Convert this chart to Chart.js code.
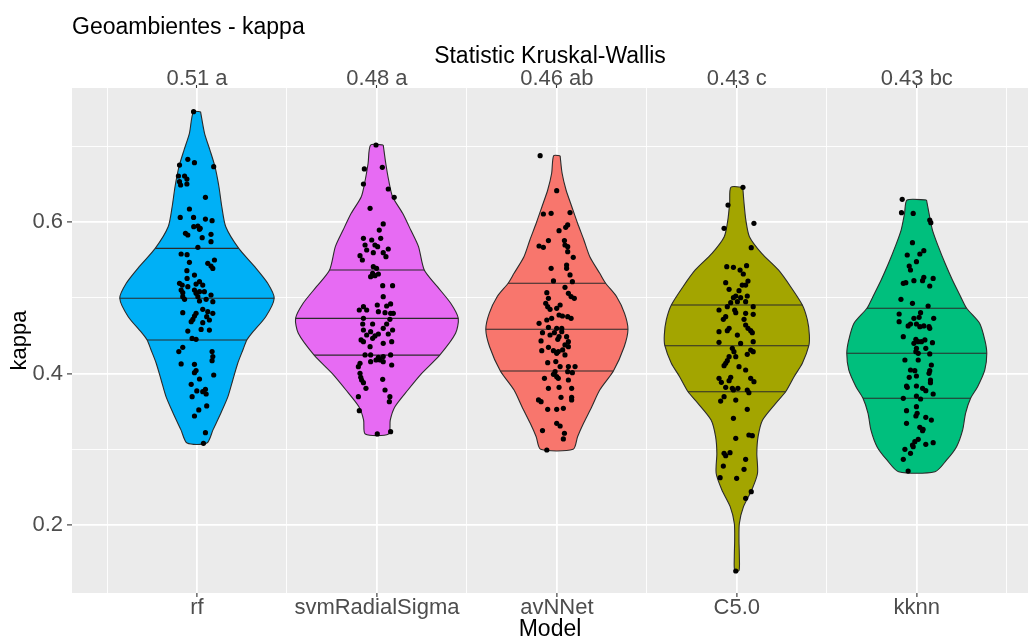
<!DOCTYPE html>
<html>
<head>
<meta charset="utf-8">
<title>Geoambientes - kappa</title>
<script src="https://cdn.jsdelivr.net/npm/chart.js@4.4.1/dist/chart.umd.min.js"></script>
<style>
  html, body { margin: 0; padding: 0; background: #ffffff; }
  canvas { display: block; }
</style>
</head>
<body>
<canvas id="chart" width="1032" height="637"></canvas>
<script>
// ---------- categories and top-axis labels ----------
const models = ['rf', 'svmRadialSigma', 'avNNet', 'C5.0', 'kknn'];
const kwLabels = ['0.51 a', '0.48 a', '0.46 ab', '0.43 c', '0.43 bc'];

// ---------- quartiles drawn inside each violin ----------
const q75 = [0.5656, 0.5370, 0.5194, 0.4907, 0.4864];
const q50 = [0.4996, 0.4731, 0.4586, 0.4369, 0.4269];
const q25 = [0.4445, 0.4245, 0.4035, 0.3761, 0.3674];

// ---------- violin density profiles: kappa level and half-width (x units) ----------
const rfLevels = [0.746, 0.7176, 0.6955, 0.6735, 0.647, 0.6206, 0.5942, 0.5656, 0.5413, 0.5194, 0.4996, 0.4752, 0.4533, 0.4445, 0.4313, 0.4141, 0.3916, 0.3696, 0.348, 0.3257, 0.3083];
const rfWidths = [0.020, 0.042, 0.072, 0.100, 0.122, 0.138, 0.160, 0.232, 0.321, 0.393, 0.429, 0.382, 0.304, 0.277, 0.255, 0.227, 0.199, 0.172, 0.133, 0.089, 0.055];

const svmLevels = [0.7022, 0.678, 0.6559, 0.6338, 0.6119, 0.5898, 0.5678, 0.537, 0.5149, 0.493, 0.4731, 0.4533, 0.4245, 0.4004, 0.3784, 0.3563, 0.3387, 0.3202];
const svmWidths = [0.035, 0.049, 0.065, 0.087, 0.143, 0.188, 0.231, 0.263, 0.336, 0.410, 0.452, 0.437, 0.349, 0.249, 0.172, 0.100, 0.074, 0.065];

const avnnetLevels = [0.688, 0.6648, 0.6427, 0.6206, 0.5987, 0.5766, 0.5545, 0.5326, 0.5194, 0.5017, 0.4797, 0.4586, 0.4356, 0.4035, 0.3784, 0.3563, 0.3344, 0.3167, 0.3000];
const avnnetWidths = [0.018, 0.029, 0.051, 0.083, 0.115, 0.150, 0.183, 0.238, 0.271, 0.332, 0.376, 0.395, 0.374, 0.314, 0.238, 0.194, 0.148, 0.115, 0.090];

const c50Levels = [0.6463, 0.6251, 0.603, 0.581, 0.559, 0.537, 0.5149, 0.4907, 0.4709, 0.4511, 0.4369, 0.4137, 0.396, 0.3761, 0.3608, 0.3387, 0.3167, 0.2947, 0.2683, 0.2462, 0.2242, 0.2022, 0.1801, 0.1581, 0.1396];
const c50Widths = [0.033, 0.040, 0.050, 0.070, 0.138, 0.231, 0.299, 0.364, 0.392, 0.403, 0.400, 0.364, 0.318, 0.271, 0.216, 0.143, 0.118, 0.111, 0.115, 0.083, 0.037, 0.014, 0.012, 0.014, 0.012];

const kknnLevels = [0.6295, 0.6119, 0.5898, 0.5678, 0.5458, 0.5238, 0.5017, 0.4864, 0.4665, 0.4445, 0.4269, 0.4049, 0.3827, 0.3674, 0.3476, 0.3257, 0.3035, 0.2859, 0.2704];
const kknnWidths = [0.054, 0.068, 0.087, 0.120, 0.157, 0.198, 0.244, 0.277, 0.349, 0.378, 0.389, 0.378, 0.338, 0.299, 0.271, 0.255, 0.221, 0.166, 0.101];

// ---------- resample kappa values and their horizontal jitter ----------
const rfKappa = [0.7462,0.6832,0.6788,0.6757,0.6735,0.6612,0.6612,0.6572,0.6537,0.6506,0.6493,0.6330,0.6176,0.6065,0.6065,0.6043,0.6021,0.5951,0.5942,0.5907,0.5920,0.5854,0.5832,0.5841,0.5797,0.5744,0.5669,0.5581,0.5572,0.5471,0.5502,0.5458,0.5422,0.5391,0.5361,0.5303,0.5259,0.5193,0.5171,0.5149,0.5184,0.5215,0.5171,0.5105,0.5070,0.5105,0.5061,0.5083,0.5083,0.5017,0.5039,0.5017,0.4982,0.4951,0.4982,0.4960,0.4806,0.4797,0.4850,0.4819,0.4797,0.4761,0.4717,0.4687,0.4753,0.4709,0.4673,0.4576,0.4585,0.4563,0.4466,0.4453,0.4348,0.4291,0.4291,0.4225,0.4172,0.4128,0.4123,0.4040,0.4013,0.3982,0.3929,0.3859,0.3793,0.3771,0.3762,0.3731,0.3696,0.3573,0.3520,0.3440,0.3220,0.3079];
const rfJitter = [-0.019,-0.051,-0.014,-0.097,0.093,-0.103,-0.069,-0.056,-0.097,-0.056,-0.091,0.047,-0.042,-0.093,-0.019,0.047,0.084,0.005,-0.018,0.014,0.018,-0.064,-0.051,0.078,0.029,0.078,0.005,-0.088,-0.055,-0.042,0.097,0.060,0.078,0.088,-0.056,-0.014,-0.055,-0.097,-0.082,-0.051,-0.005,0.014,0.032,-0.088,-0.079,-0.014,-0.005,0.014,0.041,-0.079,0.078,0.005,0.051,0.088,-0.069,0.014,-0.079,-0.005,0.032,0.060,0.088,-0.014,-0.023,-0.032,0.054,0.069,0.032,0.069,0.023,-0.051,-0.027,-0.005,-0.079,-0.101,0.084,0.088,0.084,-0.088,-0.014,-0.005,-0.014,0.093,0.014,-0.032,0.047,-0.001,0.032,0.051,-0.027,0.054,0.010,-0.014,0.047,0.036];

const svmKappa = [0.7022,0.6705,0.6727,0.6506,0.6440,0.6330,0.6185,0.5978,0.5898,0.5788,0.5766,0.5788,0.5700,0.5700,0.5634,0.5678,0.5599,0.5647,0.5599,0.5559,0.5546,0.5502,0.5414,0.5392,0.5326,0.5317,0.5282,0.5295,0.5163,0.5163,0.5017,0.4885,0.4907,0.4894,0.4921,0.4841,0.4841,0.4819,0.4806,0.4797,0.4797,0.4731,0.4718,0.4656,0.4656,0.4656,0.4599,0.4577,0.4577,0.4555,0.4511,0.4524,0.4524,0.4445,0.4423,0.4467,0.4498,0.4357,0.4401,0.4423,0.4247,0.4247,0.4216,0.4225,0.4247,0.4136,0.4158,0.4158,0.4180,0.4114,0.4180,0.4092,0.4004,0.3951,0.3916,0.3881,0.3925,0.3806,0.3784,0.3696,0.3696,0.3630,0.3511,0.3203,0.3233];
const svmJitter = [-0.005,-0.070,0.030,-0.075,0.063,0.096,-0.038,0.035,0.013,-0.075,-0.029,0.021,-0.066,-0.011,-0.057,0.004,-0.020,0.063,0.035,-0.094,0.050,-0.081,-0.020,-0.002,-0.024,0.008,-0.035,-0.011,0.032,0.087,0.035,-0.075,0.002,0.054,0.076,-0.098,-0.057,0.008,0.045,0.076,0.091,-0.075,0.072,-0.079,-0.024,0.054,0.035,0.087,-0.075,-0.035,-0.057,0.008,0.063,-0.088,-0.075,-0.024,-0.011,-0.038,0.035,0.082,-0.066,-0.035,0.008,0.035,0.076,-0.094,-0.035,0.035,0.017,0.082,-0.005,-0.103,-0.094,-0.090,-0.085,-0.075,0.032,-0.061,0.045,-0.103,0.072,0.069,-0.098,0.002,0.076];

const avnnetKappa = [0.6881,0.6418,0.6110,0.6119,0.6128,0.5965,0.5934,0.5890,0.5758,0.5758,0.5700,0.5678,0.5687,0.5670,0.5612,0.5537,0.5436,0.5392,0.5392,0.5304,0.5225,0.5216,0.5141,0.5062,0.5070,0.5018,0.4996,0.4996,0.4930,0.4885,0.4907,0.4863,0.4850,0.4775,0.4762,0.4753,0.4731,0.4709,0.4731,0.4665,0.4612,0.4599,0.4599,0.4542,0.4542,0.4555,0.4511,0.4489,0.4489,0.4432,0.4454,0.4423,0.4379,0.4357,0.4348,0.4313,0.4291,0.4304,0.4304,0.4269,0.4247,0.4145,0.4159,0.4093,0.4093,0.4093,0.4026,0.3991,0.3960,0.3938,0.4026,0.4013,0.3938,0.3916,0.3806,0.3819,0.3806,0.3652,0.3630,0.3687,0.3687,0.3652,0.3529,0.3529,0.3542,0.3344,0.3308,0.3247,0.3212,0.3137,0.2991];
const avnnetJitter = [-0.093,-0.001,-0.075,-0.032,0.073,0.060,0.049,0.012,-0.047,0.042,0.045,0.060,-0.099,-0.075,0.060,0.091,0.054,0.054,-0.032,0.073,-0.019,0.086,0.045,0.064,-0.056,0.079,0.097,-0.047,-0.062,-0.051,0.018,-0.001,-0.038,0.012,0.031,0.060,0.079,-0.056,-0.029,-0.099,-0.047,-0.001,0.027,-0.080,-0.014,0.027,-0.038,0.012,0.054,-0.088,0.005,0.064,0.045,0.064,-0.047,0.032,0.008,-0.084,-0.019,-0.001,0.045,-0.051,-0.006,0.018,0.064,0.101,-0.010,-0.019,-0.001,0.008,0.060,0.086,-0.069,0.064,-0.047,0.012,0.082,-0.102,-0.088,0.023,0.082,0.082,-0.051,-0.001,0.036,-0.001,0.018,-0.080,0.042,0.036,-0.056];

const c50Kappa = [0.6462,0.6228,0.5986,0.5920,0.5665,0.5414,0.5405,0.5427,0.5369,0.5317,0.5202,0.5224,0.5171,0.5171,0.5114,0.5096,0.5026,0.5026,0.5004,0.5004,0.4938,0.4951,0.4951,0.4885,0.4885,0.4841,0.4841,0.4797,0.4806,0.4784,0.4753,0.4718,0.4718,0.4643,0.4599,0.4568,0.4599,0.4568,0.4541,0.4510,0.4555,0.4422,0.4414,0.4400,0.4334,0.4290,0.4312,0.4290,0.4255,0.4224,0.4224,0.4171,0.4136,0.4105,0.4092,0.4048,0.3938,0.3951,0.3938,0.3894,0.3885,0.3907,0.3819,0.3784,0.3806,0.3806,0.3784,0.3696,0.3638,0.3651,0.3748,0.3528,0.3409,0.3145,0.3189,0.3180,0.2947,0.2956,0.2916,0.2867,0.2779,0.2735,0.2625,0.2616,0.2440,0.2352,0.1392];
const c50Jitter = [0.034,-0.049,0.095,-0.071,0.080,-0.056,-0.019,0.054,0.018,0.036,-0.062,0.062,0.049,0.030,-0.043,0.012,-0.006,0.058,0.021,-0.019,-0.034,0.003,0.049,-0.053,0.091,-0.099,-0.012,0.049,-0.006,0.091,-0.062,-0.075,0.040,0.049,-0.043,-0.053,0.062,0.077,0.086,0.003,-0.099,0.091,-0.099,0.021,-0.025,-0.016,0.077,0.091,0.058,-0.043,-0.006,-0.053,-0.062,-0.071,0.012,0.049,-0.099,-0.034,0.077,0.095,-0.086,-0.043,-0.062,-0.019,-0.025,0.006,0.058,-0.071,-0.090,-0.006,0.067,0.058,-0.019,-0.006,0.067,0.086,-0.071,-0.038,-0.062,0.049,-0.075,0.040,-0.093,-0.001,0.080,0.049,-0.006];

const kknnKappa = [0.6304,0.6127,0.6118,0.6030,0.5995,0.5731,0.5625,0.5568,0.5581,0.5480,0.5422,0.5370,0.5273,0.5259,0.5193,0.5202,0.5229,0.5229,0.5158,0.4982,0.4929,0.4894,0.4788,0.4806,0.4687,0.4731,0.4744,0.4731,0.4630,0.4656,0.4656,0.4621,0.4630,0.4621,0.4599,0.4489,0.4453,0.4445,0.4401,0.4423,0.4423,0.4409,0.4334,0.4334,0.4290,0.4268,0.4260,0.4180,0.4180,0.4114,0.4048,0.4039,0.4039,0.3969,0.4004,0.3916,0.3951,0.3837,0.3819,0.3837,0.3806,0.3731,0.3775,0.3881,0.3674,0.3704,0.3665,0.3564,0.3511,0.3475,0.3440,0.3423,0.3387,0.3343,0.3290,0.3264,0.3246,0.3132,0.3101,0.3057,0.3035,0.3066,0.3088,0.3000,0.2947,0.2868,0.2713];
const kknnJitter = [-0.081,-0.085,-0.020,0.072,0.078,-0.024,0.039,-0.053,0.017,-0.002,-0.042,-0.035,0.039,0.091,-0.075,-0.061,-0.016,0.032,0.072,-0.088,-0.024,0.063,-0.098,0.021,-0.098,-0.016,0.013,0.094,-0.048,-0.035,-0.002,0.017,0.039,0.068,0.072,-0.075,-0.005,0.045,-0.016,0.008,0.026,0.087,-0.002,0.050,-0.005,0.008,0.072,-0.066,0.008,0.081,-0.035,-0.011,0.072,-0.002,0.068,0.076,-0.042,-0.057,-0.053,-0.002,0.032,0.091,0.050,0.076,-0.075,-0.002,0.021,-0.002,-0.057,0.002,-0.005,0.050,0.081,-0.057,0.017,0.035,0.032,0.008,-0.011,-0.024,-0.020,0.050,0.091,-0.066,-0.035,-0.075,-0.048];

// ---------- axis grids ----------
const xGridValues = [0.5, 1, 1.5, 2, 2.5, 3, 3.5, 4, 4.5, 5, 5.5];
const yGridValues = [0.2, 0.3, 0.4, 0.5, 0.6, 0.7];
const yLabelValues = [0.2, 0.4, 0.6];

// ---------- styling ----------
const fillColors = ['#00B0F6', '#E76BF3', '#F8766D', '#A3A500', '#00BF7D'];
const FONT = '"Liberation Sans", Arial, Helvetica, sans-serif';
const X_MIN = 0.3055, X_MAX = 5.618;
const Y_MIN = 0.1101, Y_MAX = 0.7775;

const levelsByModel = [rfLevels, svmLevels, avnnetLevels, c50Levels, kknnLevels];
const widthsByModel = [rfWidths, svmWidths, avnnetWidths, c50Widths, kknnWidths];
const kappaByModel = [rfKappa, svmKappa, avnnetKappa, c50Kappa, kknnKappa];
const jitterByModel = [rfJitter, svmJitter, avnnetJitter, c50Jitter, kknnJitter];

// closed outline: down the right side, back up the left side
function violinOutline(center, levels, widths) {
  const right = levels.map((v, i) => ({ x: center + widths[i], y: v }));
  const left = levels.map((v, i) => ({ x: center - widths[i], y: v })).reverse();
  return right.concat(left, [right[0]]);
}

// half-width of the profile at the level closest to q
function widthAt(levels, widths, q) {
  let best = 0;
  levels.forEach((v, i) => { if (Math.abs(v - q) < Math.abs(levels[best] - q)) best = i; });
  return widths[best];
}

const datasets = [];
models.forEach((m, i) => {
  const center = i + 1;
  const levels = levelsByModel[i];
  const widths = widthsByModel[i];

  datasets.push({
    label: m + ' violin',
    data: violinOutline(center, levels, widths),
    showLine: true,
    fill: 'shape',
    backgroundColor: fillColors[i],
    borderColor: '#2b2b2b',
    borderWidth: 1.1,
    pointRadius: 0,
    tension: 0.25,
    order: 3
  });

  [q25[i], q50[i], q75[i]].forEach((q) => {
    const w = widthAt(levels, widths, q);
    datasets.push({
      label: m + ' quartile',
      data: [{ x: center - w, y: q }, { x: center + w, y: q }],
      showLine: true,
      fill: false,
      borderColor: '#2b2b2b',
      borderWidth: 1.1,
      pointRadius: 0,
      order: 2
    });
  });

  datasets.push({
    label: m + ' resamples',
    data: kappaByModel[i].map((k, j) => ({ x: center + jitterByModel[i][j], y: k })),
    showLine: false,
    pointRadius: 2.6,
    pointBackgroundColor: '#000000',
    pointBorderWidth: 0,
    order: 0
  });
});

const isMajorX = (v) => Number.isInteger(Math.round(v * 1e6) / 1e6);
const isMajorY = (v) => yLabelValues.some((l) => Math.abs(l - v) < 1e-6);

const panelPlugin = {
  id: 'panel',
  beforeDraw(chart) {
    const { ctx, chartArea: a } = chart;
    ctx.save();
    ctx.fillStyle = '#ffffff';
    ctx.fillRect(0, 0, chart.width, chart.height);
    ctx.fillStyle = '#EBEBEB';
    ctx.fillRect(a.left, a.top, a.right - a.left, a.bottom - a.top);
    ctx.restore();
  },
  afterDraw(chart) {
    const { ctx, chartArea: a } = chart;
    ctx.save();
    ctx.fillStyle = '#000000';
    ctx.font = '23px ' + FONT;
    ctx.textAlign = 'left';
    ctx.textBaseline = 'alphabetic';
    ctx.fillText('Geoambientes - kappa', a.left, 34);
    ctx.restore();
  }
};

new Chart(document.getElementById('chart'), {
  type: 'scatter',
  data: { datasets },
  options: {
    responsive: false,
    devicePixelRatio: 1,
    animation: false,
    events: [],
    layout: { padding: 0 },
    plugins: {
      legend: { display: false },
      tooltip: { enabled: false },
      title: { display: false }
    },
    scales: {
      x: {
        type: 'linear',
        position: 'bottom',
        min: X_MIN,
        max: X_MAX,
        bounds: 'data',
        afterBuildTicks: (s) => { s.ticks = xGridValues.map((v) => ({ value: v })); },
        afterFit: (s) => { s.height = 44; },
        border: { display: false },
        grid: {
          color: '#ffffff',
          lineWidth: (c) => (c.tick && isMajorX(c.tick.value) ? 1.8 : 0.9),
          drawTicks: true,
          tickLength: 4,
          tickWidth: 1.1,
          tickColor: (c) => (c.tick && isMajorX(c.tick.value) ? '#333333' : 'rgba(0,0,0,0)')
        },
        ticks: {
          autoSkip: false,
          maxRotation: 0,
          padding: 0,
          color: '#4D4D4D',
          font: { family: FONT, size: 22, lineHeight: 1 },
          callback: (v) => (isMajorX(v) ? models[Math.round(v) - 1] : '')
        },
        title: {
          display: true,
          text: 'Model',
          color: '#000000',
          font: { family: FONT, size: 23, lineHeight: 1 },
          padding: { top: 0, bottom: -4.5 }
        }
      },
      x2: {
        type: 'linear',
        position: 'top',
        min: X_MIN,
        max: X_MAX,
        bounds: 'data',
        afterBuildTicks: (s) => { s.ticks = models.map((m, i) => ({ value: i + 1 })); },
        afterFit: (s) => { s.height = 88; },
        border: { display: false },
        grid: {
          drawOnChartArea: false,
          drawTicks: true,
          tickLength: 3,
          tickWidth: 1.1,
          tickColor: '#333333'
        },
        ticks: {
          autoSkip: false,
          maxRotation: 0,
          padding: -5,
          color: '#4D4D4D',
          font: { family: FONT, size: 22, lineHeight: 1 },
          callback: (v) => kwLabels[Math.round(v) - 1]
        },
        title: {
          display: true,
          text: 'Statistic Kruskal-Wallis',
          color: '#000000',
          font: { family: FONT, size: 23, lineHeight: 1 },
          padding: { top: 45.5, bottom: 0 }
        }
      },
      y: {
        type: 'linear',
        position: 'left',
        min: Y_MIN,
        max: Y_MAX,
        bounds: 'data',
        afterBuildTicks: (s) => { s.ticks = yGridValues.map((v) => ({ value: v })); },
        afterFit: (s) => { s.width = 72; },
        border: { display: false },
        grid: {
          color: '#ffffff',
          lineWidth: (c) => (c.tick && isMajorY(c.tick.value) ? 1.8 : 0.9),
          drawTicks: true,
          tickLength: 5,
          tickWidth: 1.1,
          tickColor: (c) => (c.tick && isMajorY(c.tick.value) ? '#333333' : 'rgba(0,0,0,0)')
        },
        ticks: {
          autoSkip: false,
          padding: 4,
          color: '#4D4D4D',
          font: { family: FONT, size: 22, lineHeight: 1 },
          callback: (v) => (isMajorY(v) ? v.toFixed(1) : '')
        },
        title: {
          display: true,
          text: 'kappa',
          color: '#000000',
          font: { family: FONT, size: 22, lineHeight: 1 },
          padding: { top: 9, bottom: 0 }
        }
      }
    }
  },
  plugins: [panelPlugin]
});
</script>
</body>
</html>
